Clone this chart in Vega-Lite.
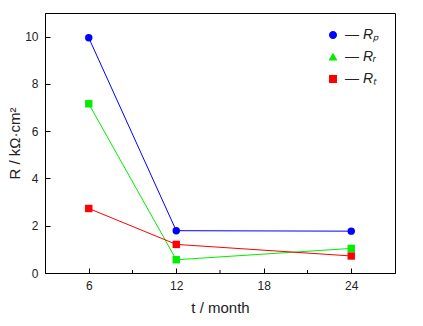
{
  "$schema": "https://vega.github.io/schema/vega-lite/v6.json",
  "autosize": {"type": "none"},
  "padding": {"left": 45, "top": 13, "right": 28, "bottom": 53},
  "width": 350,
  "height": 260,
  "background": "white",
  "config": {
    "view": {"stroke": "black", "strokeWidth": 1},
    "font": "Liberation Sans",
    "axis": {
      "domainColor": "black",
      "tickColor": "black",
      "labelColor": "#222",
      "titleColor": "#222",
      "labelFont": "Liberation Sans",
      "titleFont": "Liberation Sans",
      "labelFontSize": 12,
      "titleFontSize": 15,
      "titleFontWeight": "normal",
      "grid": false
    },
    "legend": {
      "orient": "none",
      "legendX": 281,
      "legendY": 15,
      "rowPadding": 8,
      "symbolSize": 42,
      "labelFont": "Liberation Sans",
      "labelFontSize": 14,
      "labelFontStyle": "italic",
      "labelColor": "#222",
      "labelOffset": 5
    }
  },
  "datasets": {
    "main": [
      {"t": 6, "R": 9.95, "series": "Rp"},
      {"t": 12, "R": 1.79, "series": "Rp"},
      {"t": 24, "R": 1.77, "series": "Rp"},
      {"t": 6, "R": 7.16, "series": "Rr"},
      {"t": 12, "R": 0.56, "series": "Rr"},
      {"t": 24, "R": 1.04, "series": "Rr"},
      {"t": 6, "R": 2.73, "series": "Rt"},
      {"t": 12, "R": 1.21, "series": "Rt"},
      {"t": 24, "R": 0.72, "series": "Rt"}
    ],
    "minor": [{"t": 9}, {"t": 15}, {"t": 21}]
  },
  "layer": [
    {
      "data": {"name": "main"},
      "mark": {"type": "line", "strokeWidth": 1},
      "encoding": {
        "x": {
          "field": "t", "type": "quantitative",
          "scale": {"domain": [3, 27], "nice": false, "zero": false},
          "axis": {"values": [6, 12, 18, 24], "tickSize": -5, "labelPadding": 12, "title": "t / month", "titlePadding": 9}
        },
        "y": {
          "field": "R", "type": "quantitative",
          "scale": {"domain": [0, 11], "nice": false},
          "axis": {"values": [0, 2, 4, 6, 8, 10], "tickSize": -5, "labelPadding": 12, "title": "R / kΩ·cm²", "titlePadding": 2}
        },
        "color": {
          "field": "series", "type": "nominal",
          "scale": {"domain": ["Rp", "Rr", "Rt"], "range": ["#0000ff", "#00ee00", "#ff0000"]}
        },
        "detail": {"field": "series"}
      }
    },
    {
      "data": {"name": "main"},
      "transform": [{"filter": "datum.series != 'Rr'"}],
      "mark": {"type": "point", "filled": true, "opacity": 1, "size": 55},
      "encoding": {
        "x": {"field": "t", "type": "quantitative"},
        "y": {"field": "R", "type": "quantitative"},
        "color": {
          "field": "series", "type": "nominal",
          "legend": {
            "title": null,
            "labelExpr": "'— R' + (datum.value == 'Rp' ? 'ₚ' : datum.value == 'Rr' ? 'ᵣ' : 'ₜ')"
          }
        },
        "shape": {
          "field": "series", "type": "nominal",
          "scale": {"domain": ["Rp", "Rr", "Rt"], "range": ["circle", "triangle-up", "square"]},
          "legend": {
            "title": null,
            "labelExpr": "'— R' + (datum.value == 'Rp' ? 'ₚ' : datum.value == 'Rr' ? 'ᵣ' : 'ₜ')"
          }
        }
      }
    },
    {
      "data": {"name": "main"},
      "transform": [{"filter": "datum.series == 'Rr'"}],
      "mark": {"type": "point", "filled": true, "opacity": 1, "size": 55, "shape": "square"},
      "encoding": {
        "x": {"field": "t", "type": "quantitative"},
        "y": {"field": "R", "type": "quantitative"},
        "color": {"field": "series", "type": "nominal"}
      }
    },
    {
      "data": {"name": "minor"},
      "mark": {"type": "rule", "color": "black", "strokeWidth": 1},
      "encoding": {
        "x": {"field": "t", "type": "quantitative"},
        "y": {"datum": 0},
        "y2": {"datum": 0.13}
      }
    }
  ]
}
